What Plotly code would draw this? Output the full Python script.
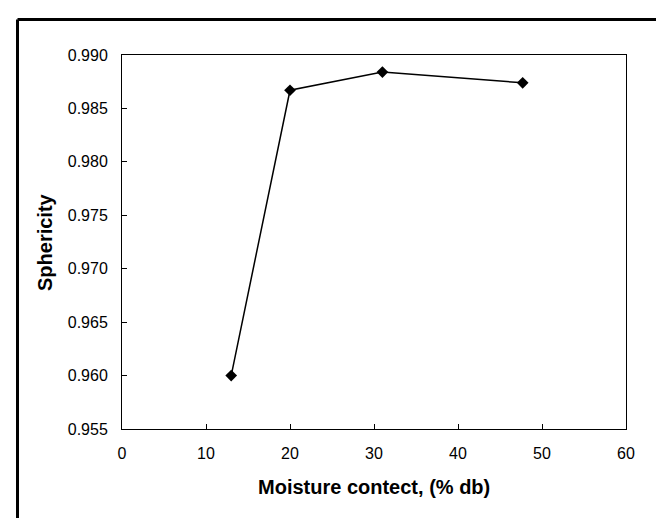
import plotly.graph_objects as go

moisture = [13.0, 20.0, 31.0, 47.7]
sphericity = [0.9600, 0.9867, 0.9884, 0.9874]
x_ticks = [0, 10, 20, 30, 40, 50, 60]
y_ticks = [0.955, 0.960, 0.965, 0.970, 0.975, 0.980, 0.985, 0.990]
x_title = "Moisture contect, (% db)"
y_title = "Sphericity"

W, H = 664, 518
L, R, T, B = 114, 46, 47, 97
pw, ph = W - L - R, H - T - B

fig = go.Figure()
fig.add_trace(go.Scatter(
    x=moisture, y=sphericity, mode="lines+markers",
    line=dict(color="black", width=1.5),
    marker=dict(symbol="diamond", size=9, color="black"),
    showlegend=False,
))

font = "Liberation Sans, Arial, sans-serif"
fig.update_layout(
    width=W, height=H,
    margin=dict(l=L, r=R, t=T, b=B, pad=0),
    paper_bgcolor="white", plot_bgcolor="white",
    font=dict(family=font, size=16, color="black"),
    xaxis=dict(range=[0, 60], tickvals=x_ticks, ticktext=[str(v) for v in x_ticks],
               showgrid=False, zeroline=False, showline=True, linecolor="black",
               linewidth=1, mirror=True, ticks="inside", ticklen=5, tickcolor="black",
               ticklabelstandoff=10),
    yaxis=dict(range=[0.955, 0.990], tickvals=y_ticks,
               ticktext=[f"{v:.3f}" for v in y_ticks],
               showgrid=False, zeroline=False, showline=True, linecolor="black",
               linewidth=1, mirror=True, ticks="inside", ticklen=5, tickcolor="black",
               ticklabelstandoff=10),
)

# axis titles
fig.add_annotation(text=f"<b>{x_title}</b>", xref="paper", yref="paper",
                   x=(366 - L) / pw, y=-(479 - (T + ph)) / ph,
                   xanchor="center", yanchor="middle", showarrow=False,
                   font=dict(family=font, size=20, color="black"))
fig.add_annotation(text=f"<b>{y_title}</b>", xref="paper", yref="paper",
                   x=(37 - L) / pw, y=0.5, textangle=-90,
                   xanchor="center", yanchor="middle", showarrow=False,
                   font=dict(family=font, size=20, color="black"))

# outer frame (left and top edges)
left_x = (9.5 - L) / pw
top_y = 1 + (T - 11.5) / ph
fig.add_shape(type="line", xref="paper", yref="paper",
              x0=left_x, x1=left_x, y0=top_y, y1=-0.4,
              line=dict(color="black", width=3))
fig.add_shape(type="line", xref="paper", yref="paper",
              x0=left_x, x1=1.3, y0=top_y, y1=top_y,
              line=dict(color="black", width=3))

fig.write_html("out.html")
